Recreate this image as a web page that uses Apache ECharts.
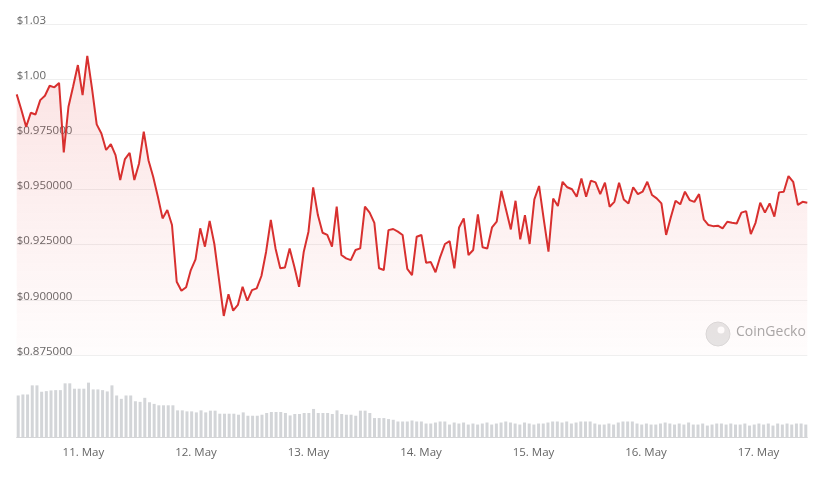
<!DOCTYPE html>
<html>
<head>
<meta charset="utf-8">
<script src="https://cdn.jsdelivr.net/npm/echarts@6/dist/echarts.min.js"></script>
<style>
  html, body { margin: 0; padding: 0; background: #fff; }
  #chart { width: 829px; height: 478px; }
</style>
</head>
<body>
<div id="chart"></div>
<script>
// hourly samples, first one at 10 May 10:05 (UTC)
const startTime = Date.UTC(2024, 4, 10, 10, 5)
const hour = 3600 * 1000

const prices = [
  0.9931, 0.9860, 0.9784, 0.9848, 0.9840, 0.9905, 0.9925, 0.9970, 0.9963, 0.9983,
  0.9668, 0.9875, 0.9968, 1.0064, 0.9928, 1.0106, 0.9958, 0.9795, 0.9754, 0.9679,
  0.9706, 0.9656, 0.9543, 0.9638, 0.9666, 0.9543, 0.9618, 0.9762, 0.9633, 0.9558,
  0.9467, 0.9369, 0.9407, 0.9339,
  0.9082, 0.9041, 0.9057, 0.9135, 0.9183, 0.9324, 0.9241, 0.9358, 0.9253, 0.9090,
  0.8927, 0.9025, 0.8951, 0.8977, 0.9059, 0.8996, 0.9044, 0.9052, 0.9108, 0.9218,
  0.9362, 0.9233, 0.9143, 0.9147, 0.9233, 0.9150, 0.9059, 0.9218, 0.9309, 0.9510,
  0.9384, 0.9304, 0.9294,
  0.9241, 0.9422, 0.9203, 0.9188, 0.9180, 0.9226, 0.9233, 0.9422, 0.9395, 0.9349,
  0.9143, 0.9135, 0.9316, 0.9321, 0.9309, 0.9294, 0.9140, 0.9112, 0.9286, 0.9294,
  0.9168, 0.9171, 0.9125, 0.9195, 0.9253, 0.9266, 0.9143, 0.9328, 0.9369, 0.9203,
  0.9226, 0.9387, 0.9238,
  0.9233, 0.9328, 0.9354, 0.9494, 0.9407, 0.9319, 0.9449, 0.9274, 0.9384, 0.9253,
  0.9455, 0.9516, 0.9365, 0.9218, 0.9459, 0.9425, 0.9535, 0.9510, 0.9501, 0.9467,
  0.9550, 0.9467, 0.9540, 0.9532, 0.9479, 0.9531, 0.9422, 0.9444, 0.9531, 0.9455,
  0.9437, 0.9510, 0.9479,
  0.9490, 0.9535, 0.9475, 0.9460, 0.9437, 0.9294, 0.9374, 0.9449, 0.9433, 0.9490,
  0.9452, 0.9444, 0.9479, 0.9365, 0.9339, 0.9334, 0.9336, 0.9324, 0.9354, 0.9349,
  0.9346, 0.9395, 0.9402, 0.9298, 0.9349, 0.9440, 0.9395, 0.9437, 0.9377, 0.9487,
  0.9490, 0.9561, 0.9535, 0.9430, 0.9444, 0.9440
]

// volume, millions
const volumes = [
  41.7, 42.7, 42.7, 51.7, 51.7, 45.4, 46, 46.7, 47, 47,
  53.7, 53.7, 48.4, 48.4, 48.4, 54.4, 47.7, 47.7, 47, 45.7,
  51.7, 41.7, 38.4, 41.7, 41.7, 36, 35.4, 39.4, 35, 33.4,
  32, 32, 32, 32, 27, 27, 26, 26, 25, 27,
  25, 26.7, 26.7, 23.7, 23.7, 23.7, 23.7, 22.7, 25, 21.7,
  21.7, 21.7, 22.7, 24.4, 25.4, 25.4, 25.4, 24.4, 22, 23.4,
  23.4, 24.4, 24.4, 28.4, 24.4, 24.4, 24.4, 23.4, 27, 23.4,
  22.7, 22.7, 21.7, 26.7, 26.7, 24.4, 19.4, 19.4, 19.4, 18.4,
  17.7, 16, 16, 16, 17,
  16, 16, 14, 14, 15, 16, 16, 13, 15, 14,
  15, 13, 14, 13, 14, 15, 13, 14, 15, 16,
  15, 14, 13, 15, 14, 13, 14, 14, 15, 16,
  16, 15, 16, 14, 15, 16, 16, 16, 14, 13,
  13, 14, 13, 15, 16, 16, 16, 14, 13, 14,
  13, 13, 14, 15, 14, 13, 14, 13, 15, 13,
  13, 14, 12, 13, 14, 14, 13, 14, 13, 13,
  14, 12, 13, 14, 13, 14, 12, 14, 13, 14,
  13, 14, 14, 13
]

const monthNames = ['Jan', 'Feb', 'Mar', 'Apr', 'May', 'Jun', 'Jul', 'Aug', 'Sep', 'Oct', 'Nov', 'Dec']

const priceData = prices.map((v, i) => [startTime + i * hour, v])
const volumeData = volumes.map((v, i) => [startTime + i * hour, v])
const tMin = startTime
const tMax = startTime + (prices.length - 1) * hour

const chart = echarts.init(document.getElementById('chart'))
chart.setOption({
  useUTC: true,
  animation: false,
  textStyle: { fontFamily: 'Open Sans, sans-serif' },
  grid: [
    { left: 16.7, right: 21.7, top: 24, height: 331 },
    { left: 16.7, right: 21.7, top: 380, bottom: 40.3 }
  ],
  xAxis: [
    {
      type: 'time', gridIndex: 0, min: tMin, max: tMax,
      axisLine: { show: false }, axisTick: { show: false },
      axisLabel: { show: false }, splitLine: { show: false }
    },
    {
      type: 'time', gridIndex: 1, min: tMin, max: tMax,
      minInterval: 24 * hour, maxInterval: 24 * hour,
      axisLine: { lineStyle: { color: '#d6d6d6', width: 1 } },
      axisTick: { inside: true, length: 6, lineStyle: { color: '#cccccc' } },
      splitLine: { show: false },
      axisLabel: {
        color: '#666', fontSize: 11.5, margin: 9,
        formatter: (val) => {
          const d = new Date(val)
          return d.getUTCDate() + '. ' + monthNames[d.getUTCMonth()]
        }
      }
    }
  ],
  yAxis: [
    {
      type: 'value', gridIndex: 0, min: 0.875, max: 1.025, interval: 0.025,
      axisLine: { show: false }, axisTick: { show: false },
      splitLine: { lineStyle: { color: '#efefef', width: 1 } },
      axisLabel: {
        inside: true, margin: 0, verticalAlign: 'bottom', color: '#666', fontSize: 11.5,
        lineHeight: 7,
        formatter: (v) => v >= 1 ? '$' + (v + 1e-9).toFixed(2) : '$' + v.toFixed(6)
      }
    },
    {
      type: 'value', gridIndex: 1, min: 0, max: 57,
      axisLine: { show: false }, axisTick: { show: false },
      axisLabel: { show: false }, splitLine: { show: false }
    }
  ],
  series: [
    {
      name: 'Volume', type: 'bar', xAxisIndex: 1, yAxisIndex: 1,
      data: volumeData, barWidth: 3,
      itemStyle: { color: '#d3d5d8' }
    },
    {
      name: 'Price', type: 'line', xAxisIndex: 0, yAxisIndex: 0,
      data: priceData, showSymbol: false,
      lineStyle: { color: '#d8302f', width: 2 },
      areaStyle: {
        color: new echarts.graphic.LinearGradient(0, 0, 0, 1, [
          { offset: 0, color: 'rgba(230, 70, 70, 0.22)' },
          { offset: 1, color: 'rgba(230, 70, 70, 0.02)' }
        ])
      },
      z: 3
    }
  ],
  graphic: [
    {
      type: 'circle', shape: { cx: 718, cy: 334, r: 12 },
      style: { fill: '#e6e6e6', stroke: '#dadada', lineWidth: 1 }
    },
    {
      type: 'circle', shape: { cx: 721, cy: 330, r: 3.5 },
      style: { fill: '#ffffff' }
    },
    {
      type: 'text', left: 736, top: 325,
      style: { text: 'CoinGecko', fill: '#a8a8a8', fontSize: 14, fontFamily: 'Open Sans, sans-serif' }
    }
  ]
})
</script>
</body>
</html>
